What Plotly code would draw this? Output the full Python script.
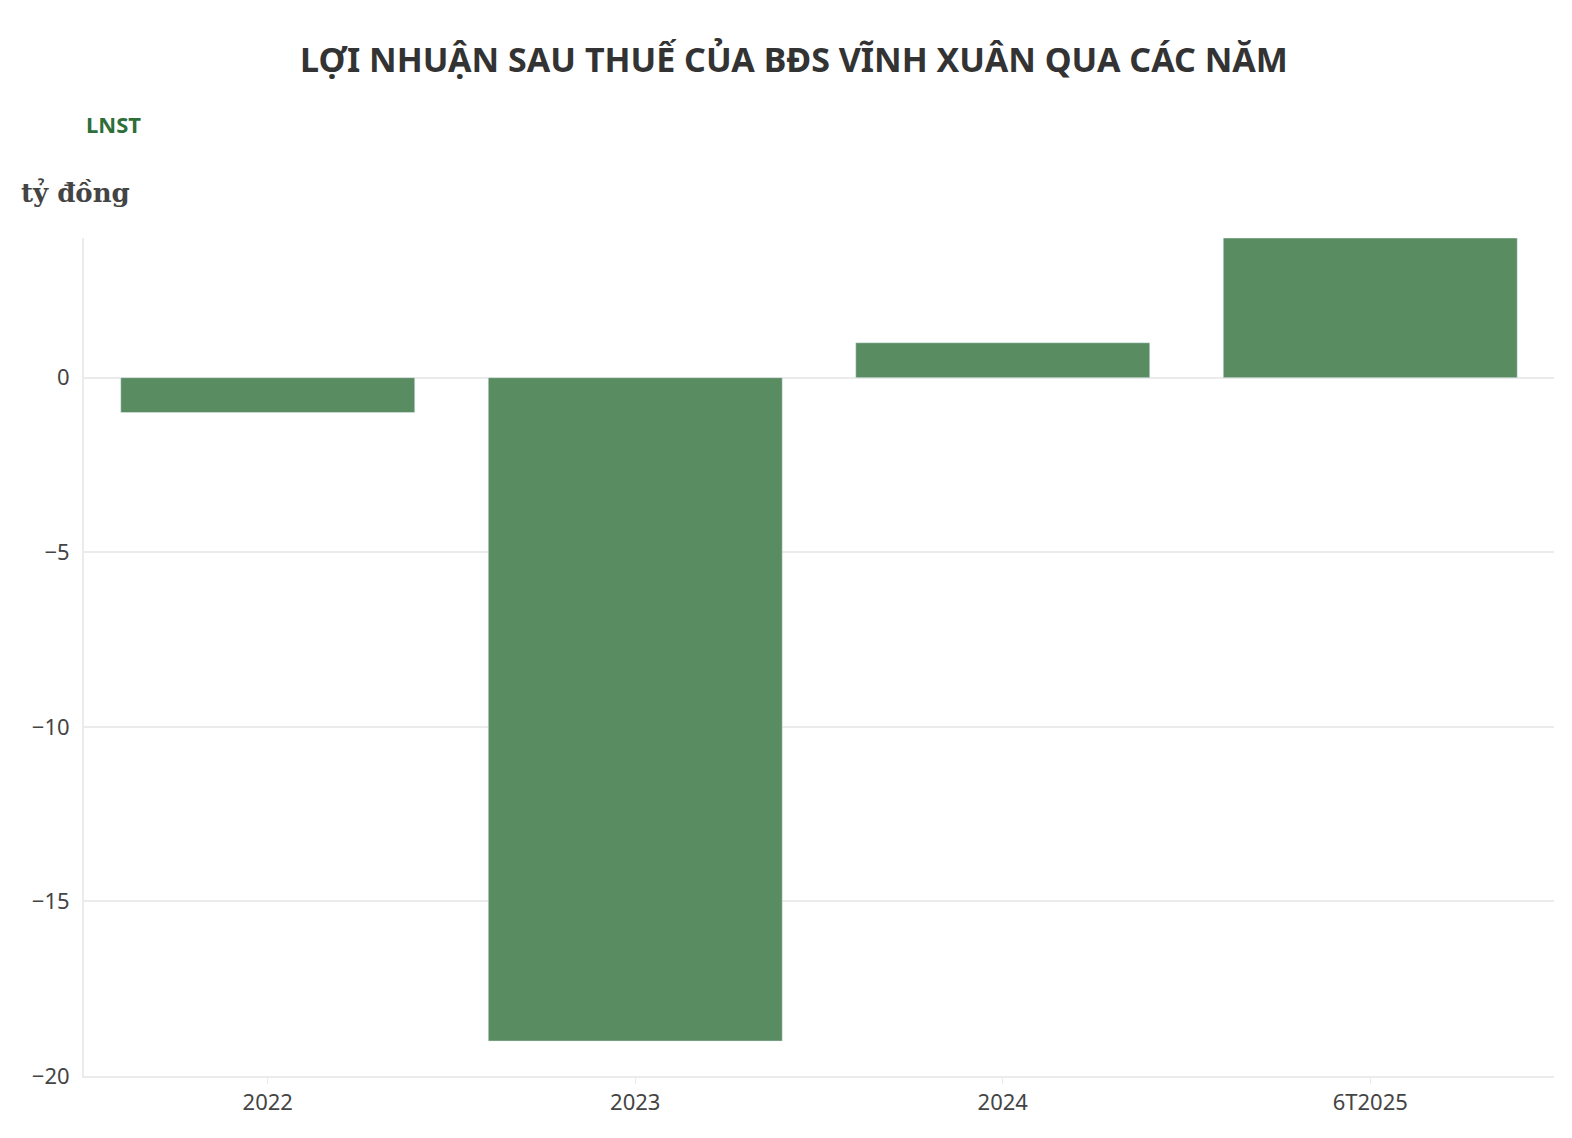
import plotly.graph_objects as go

categories = ["2022", "2023", "2024", "6T2025"]
lnst = [-1, -19, 1, 4]

fig = go.Figure(go.Bar(x=categories, y=lnst, name="LNST", marker_color="#5a8c62", width=0.8))
fig.update_layout(
    width=1572, height=1138, plot_bgcolor="white", paper_bgcolor="white",
    margin=dict(l=76, r=26, t=230, b=70), showlegend=False,
    font=dict(family="Noto Sans", size=22, color="#444"),
    title=dict(text="<b>LỢI NHUẬN SAU THUẾ CỦA BĐS VĨNH XUÂN QUA CÁC NĂM</b>", x=0.5, y=0.965,
               xanchor="center", font=dict(size=34, color="#333")),
    annotations=[
        dict(text="<b>LNST</b>", x=76, y=1138-116, xref="paper", yref="paper", showarrow=False,
             font=dict(size=22, color="#2e6e3a")),
        dict(text="<b>tỷ đồng</b>", x=0.0, y=1.0, xref="paper", yref="paper", showarrow=False),
    ],
)
fig.layout.annotations = [
    dict(text="<b>LNST</b>", x=-0.0, y=(1138-70-116)/(1138-300) , xref="paper", yref="paper",
         xanchor="left", yanchor="middle", showarrow=False, font=dict(size=22, color="#2e6e3a")),
    dict(text="<b>tỷ đồng</b>", x=-0.044, y=(1138-70-185)/(1138-300), xref="paper", yref="paper",
         xanchor="left", yanchor="middle", showarrow=False, font=dict(size=26, color="#444", family="DejaVu Serif")),
]
fig.update_yaxes(range=[-20, 4], tickvals=[-20, -15, -10, -5, 0], gridcolor="#ebebeb", gridwidth=2,
                 zeroline=True, zerolinecolor="#ebebeb", zerolinewidth=2, showline=True,
                 linecolor="#ebebeb", linewidth=2, ticks="", ticklabelstandoff=8)
fig.update_xaxes(showline=True, linecolor="#ebebeb", linewidth=2, ticks="outside",
                 tickcolor="#ebebeb", ticklen=6)
fig.write_html("out.html")
